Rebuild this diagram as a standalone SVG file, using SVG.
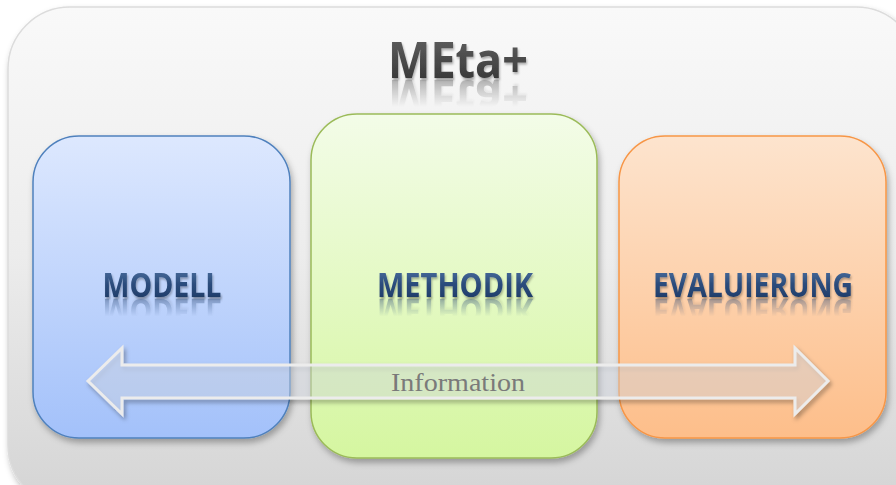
<svg xmlns="http://www.w3.org/2000/svg" xmlns:xlink="http://www.w3.org/1999/xlink" width="896" height="485" viewBox="0 0 896 485">
<defs>
<linearGradient id="gOuter" x1="0" y1="0" x2="0" y2="1"><stop offset="0" stop-color="#f9f9f9"/><stop offset="0.5" stop-color="#ececec"/><stop offset="1" stop-color="#d4d4d4"/></linearGradient>
<linearGradient id="gBlue" x1="0" y1="0" x2="0" y2="1"><stop offset="0" stop-color="#dde8fe"/><stop offset="1" stop-color="#a3c1fa"/></linearGradient>
<linearGradient id="gGreen" x1="0" y1="0" x2="0" y2="1"><stop offset="0" stop-color="#f3fce8"/><stop offset="1" stop-color="#d5f6a0"/></linearGradient>
<linearGradient id="gOrange" x1="0" y1="0" x2="0" y2="1"><stop offset="0" stop-color="#fde4ce"/><stop offset="1" stop-color="#fdbe8a"/></linearGradient>
<linearGradient id="gTxt" x1="0" y1="0" x2="0" y2="1"><stop offset="0" stop-color="#5a7fae"/><stop offset="0.5" stop-color="#2b4c7c"/><stop offset="1" stop-color="#1c3560"/></linearGradient>
<linearGradient id="gTitle" x1="0" y1="0" x2="0" y2="1"><stop offset="0" stop-color="#6a6a6a"/><stop offset="1" stop-color="#2e2e2e"/></linearGradient>
<linearGradient id="gFade" x1="0" y1="0" x2="0" y2="1"><stop offset="0" stop-color="#fff" stop-opacity="0.8"/><stop offset="0.6" stop-color="#fff" stop-opacity="0"/></linearGradient>
<filter id="sh" x="-10%" y="-10%" width="120%" height="130%"><feDropShadow dx="2" dy="4" stdDeviation="3" flood-color="#000" flood-opacity="0.3"/></filter>
<filter id="shA" x="-5%" y="-30%" width="110%" height="160%"><feDropShadow dx="2" dy="3" stdDeviation="2" flood-color="#000" flood-opacity="0.35"/></filter>
<filter id="shT" x="-20%" y="-30%" width="140%" height="160%"><feDropShadow dx="1" dy="2" stdDeviation="1" flood-color="#000" flood-opacity="0.3"/></filter>
<mask id="mRefl" maskContentUnits="objectBoundingBox" x="-0.2" y="-0.2" width="1.4" height="1.4"><rect x="-0.2" y="0" width="1.4" height="1" fill="url(#gFade)"/></mask>
<style>
.lbl{font-family:"Open Sans","Liberation Sans",sans-serif;font-weight:700;font-size:34px;fill:url(#gTxt);text-anchor:middle}
.ttl{font-family:"Open Sans","Liberation Sans",sans-serif;font-weight:700;font-size:51px;fill:url(#gTitle);text-anchor:middle}
.info{font-family:"Liberation Serif",serif;font-size:26px;fill:#7a7a7a;text-anchor:middle}
</style>
</defs>
<g id="frame">
<rect x="8" y="7" width="910" height="500" rx="62" fill="url(#gOuter)" stroke="#dcdcdc" stroke-width="1.5" filter="url(#sh)"/>
</g>
<g id="title">
<text id="tMeta" class="ttl" x="458" y="78" textLength="140" lengthAdjust="spacingAndGlyphs" filter="url(#shT)">MEta+</text>
<g mask="url(#mRefl)" opacity="0.7"><use xlink:href="#tMeta" transform="translate(0,158) scale(1,-1)"/></g>
</g>
<g id="modell">
<rect x="33" y="136" width="257" height="302" rx="46" fill="url(#gBlue)" stroke="#4f81bd" stroke-width="1.5" filter="url(#sh)"/>
<text id="tModell" class="lbl" x="162" y="297" textLength="119" lengthAdjust="spacingAndGlyphs" filter="url(#shT)">MODELL</text>
<g mask="url(#mRefl)" opacity="0.8"><use xlink:href="#tModell" transform="translate(0,596) scale(1,-1)"/></g>
</g>
<g id="methodik">
<rect x="311" y="114" width="286" height="344" rx="46" fill="url(#gGreen)" stroke="#9bbb59" stroke-width="1.5" filter="url(#sh)"/>
<text id="tMeth" class="lbl" x="455" y="297" textLength="156" lengthAdjust="spacingAndGlyphs" filter="url(#shT)">METHODIK</text>
<g mask="url(#mRefl)" opacity="0.8"><use xlink:href="#tMeth" transform="translate(0,596) scale(1,-1)"/></g>
</g>
<g id="evaluierung">
<rect x="619" y="136" width="267" height="302" rx="46" fill="url(#gOrange)" stroke="#f79646" stroke-width="1.5" filter="url(#sh)"/>
<text id="tEval" class="lbl" x="753" y="297" textLength="200" lengthAdjust="spacingAndGlyphs" filter="url(#shT)">EVALUIERUNG</text>
<g mask="url(#mRefl)" opacity="0.8"><use xlink:href="#tEval" transform="translate(0,596) scale(1,-1)"/></g>
</g>
<g id="connectors">
<path d="M88,381 L122,348 L122,365 L795,365 L795,348 L828,381 L795,414 L795,398 L122,398 L122,414 Z" fill="#dfe6f0" fill-opacity="0.35" stroke="#ececec" stroke-width="3" stroke-linejoin="miter" filter="url(#shA)"/>
<text class="info" x="458" y="391" textLength="134" lengthAdjust="spacingAndGlyphs">Information</text>
</g>
</svg>
